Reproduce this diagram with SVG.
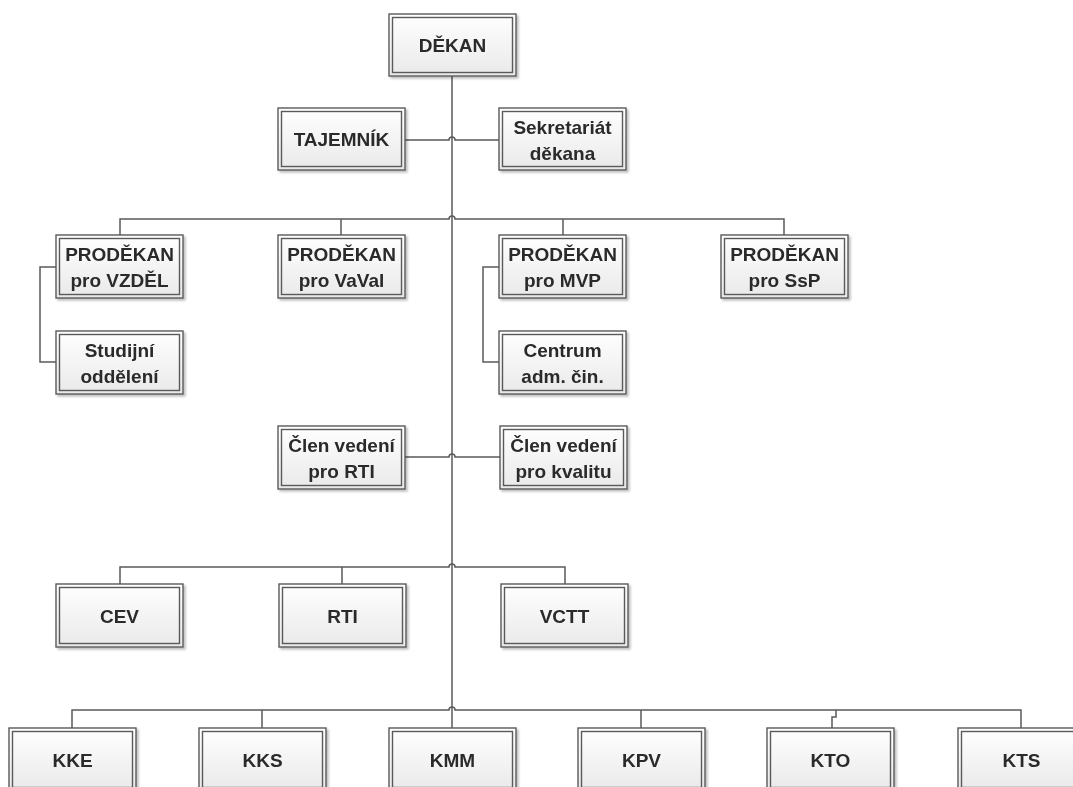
<svg xmlns="http://www.w3.org/2000/svg" width="1073" height="787" viewBox="0 0 1073 787">
<style>
.o{fill:url(#g);stroke:#5a5a5a;stroke-width:1.4}
.i{fill:none;stroke:#5a5a5a;stroke-width:1.4}
.t{font-family:"Liberation Sans",Arial,sans-serif;font-weight:bold;font-size:19px;fill:#2a2a2a;text-anchor:middle}
.c{fill:none;stroke:#5a5a5a;stroke-width:1.5}
</style>
<defs>
<linearGradient id="g" x1="0" y1="0" x2="0" y2="1">
<stop offset="0" stop-color="#ffffff"/>
<stop offset="1" stop-color="#e9e9e9"/>
</linearGradient>
<filter id="sh" x="-10%" y="-10%" width="125%" height="130%">
<feDropShadow dx="2" dy="2" stdDeviation="1.2" flood-color="#000" flood-opacity="0.25"/>
</filter>
</defs>
<rect width="1073" height="787" fill="#fff"/>
<g id="connectors" class="c">
<path class="c" d="M452 76 V728"/>
<path class="c" d="M405 140 H449 a3 3 0 0 1 6 0 H499"/>
<path class="c" d="M120 235 V219 H449 a3 3 0 0 1 6 0 H784 V235"/>
<path class="c" d="M341 219 V235"/>
<path class="c" d="M563 219 V235"/>
<path class="c" d="M56 267 H40 V362 H56"/>
<path class="c" d="M499 267 H483 V362 H499"/>
<path class="c" d="M405 457 H449 a3 3 0 0 1 6 0 H500"/>
<path class="c" d="M120 584 V567 H449 a3 3 0 0 1 6 0 H565 V584"/>
<path class="c" d="M342 567 V584"/>
<path class="c" d="M72 728 V710 H449 a3 3 0 0 1 6 0 H1021 V728"/>
<path class="c" d="M262 710 V728"/>
<path class="c" d="M641 710 V728"/>
<path class="c" d="M836 710 V717 H832 V728"/>
</g>
<g id="dekan" filter="url(#sh)"><rect class="o" x="389" y="14" width="127" height="62"/><rect class="i" x="392.5" y="17.5" width="120" height="55"/><text class="t" x="452.5" y="52">DĚKAN</text></g>
<g id="tajemnik" filter="url(#sh)"><rect class="o" x="278" y="108" width="127" height="62"/><rect class="i" x="281.5" y="111.5" width="120" height="55"/><text class="t" x="341.5" y="146">TAJEMNÍK</text></g>
<g id="sekretariat" filter="url(#sh)"><rect class="o" x="499" y="108" width="127" height="62"/><rect class="i" x="502.5" y="111.5" width="120" height="55"/><text class="t" x="562.5" y="134">Sekretariát</text><text class="t" x="562.5" y="160">děkana</text></g>
<g id="prodekan-vzdel" filter="url(#sh)"><rect class="o" x="56" y="235" width="127" height="63"/><rect class="i" x="59.5" y="238.5" width="120" height="56"/><text class="t" x="119.5" y="261">PRODĚKAN</text><text class="t" x="119.5" y="287">pro VZDĚL</text></g>
<g id="prodekan-vaval" filter="url(#sh)"><rect class="o" x="278" y="235" width="127" height="63"/><rect class="i" x="281.5" y="238.5" width="120" height="56"/><text class="t" x="341.5" y="261">PRODĚKAN</text><text class="t" x="341.5" y="287">pro VaVal</text></g>
<g id="prodekan-mvp" filter="url(#sh)"><rect class="o" x="499" y="235" width="127" height="63"/><rect class="i" x="502.5" y="238.5" width="120" height="56"/><text class="t" x="562.5" y="261">PRODĚKAN</text><text class="t" x="562.5" y="287">pro MVP</text></g>
<g id="prodekan-ssp" filter="url(#sh)"><rect class="o" x="721" y="235" width="127" height="63"/><rect class="i" x="724.5" y="238.5" width="120" height="56"/><text class="t" x="784.5" y="261">PRODĚKAN</text><text class="t" x="784.5" y="287">pro SsP</text></g>
<g id="studijni" filter="url(#sh)"><rect class="o" x="56" y="331" width="127" height="63"/><rect class="i" x="59.5" y="334.5" width="120" height="56"/><text class="t" x="119.5" y="357">Studijní</text><text class="t" x="119.5" y="383">oddělení</text></g>
<g id="centrum" filter="url(#sh)"><rect class="o" x="499" y="331" width="127" height="63"/><rect class="i" x="502.5" y="334.5" width="120" height="56"/><text class="t" x="562.5" y="357">Centrum</text><text class="t" x="562.5" y="383">adm. čin.</text></g>
<g id="clen-rti" filter="url(#sh)"><rect class="o" x="278" y="426" width="127" height="63"/><rect class="i" x="281.5" y="429.5" width="120" height="56"/><text class="t" x="341.5" y="452">Člen vedení</text><text class="t" x="341.5" y="478">pro RTI</text></g>
<g id="clen-kvalita" filter="url(#sh)"><rect class="o" x="500" y="426" width="127" height="63"/><rect class="i" x="503.5" y="429.5" width="120" height="56"/><text class="t" x="563.5" y="452">Člen vedení</text><text class="t" x="563.5" y="478">pro kvalitu</text></g>
<g id="cev" filter="url(#sh)"><rect class="o" x="56" y="584" width="127" height="63"/><rect class="i" x="59.5" y="587.5" width="120" height="56"/><text class="t" x="119.5" y="622.5">CEV</text></g>
<g id="rti" filter="url(#sh)"><rect class="o" x="279" y="584" width="127" height="63"/><rect class="i" x="282.5" y="587.5" width="120" height="56"/><text class="t" x="342.5" y="622.5">RTI</text></g>
<g id="vctt" filter="url(#sh)"><rect class="o" x="501" y="584" width="127" height="63"/><rect class="i" x="504.5" y="587.5" width="120" height="56"/><text class="t" x="564.5" y="622.5">VCTT</text></g>
<g id="kke" filter="url(#sh)"><rect class="o" x="9" y="728" width="127" height="63"/><rect class="i" x="12.5" y="731.5" width="120" height="56"/><text class="t" x="72.5" y="767">KKE</text></g>
<g id="kks" filter="url(#sh)"><rect class="o" x="199" y="728" width="127" height="63"/><rect class="i" x="202.5" y="731.5" width="120" height="56"/><text class="t" x="262.5" y="767">KKS</text></g>
<g id="kmm" filter="url(#sh)"><rect class="o" x="389" y="728" width="127" height="63"/><rect class="i" x="392.5" y="731.5" width="120" height="56"/><text class="t" x="452.5" y="767">KMM</text></g>
<g id="kpv" filter="url(#sh)"><rect class="o" x="578" y="728" width="127" height="63"/><rect class="i" x="581.5" y="731.5" width="120" height="56"/><text class="t" x="641.5" y="767">KPV</text></g>
<g id="kto" filter="url(#sh)"><rect class="o" x="767" y="728" width="127" height="63"/><rect class="i" x="770.5" y="731.5" width="120" height="56"/><text class="t" x="830.5" y="767">KTO</text></g>
<g id="kts" filter="url(#sh)"><rect class="o" x="958" y="728" width="127" height="63"/><rect class="i" x="961.5" y="731.5" width="120" height="56"/><text class="t" x="1021.5" y="767">KTS</text></g>
</svg>
